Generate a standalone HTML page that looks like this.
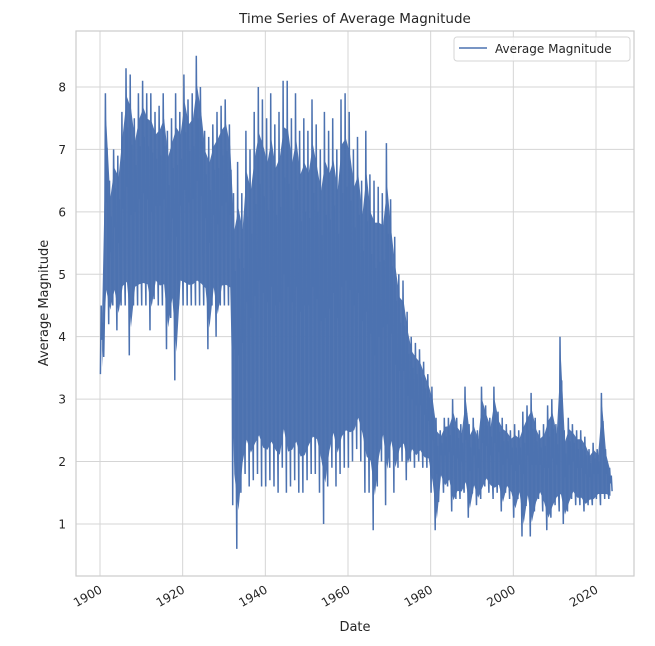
<!DOCTYPE html>
<html><head><meta charset="utf-8"><style>
body{margin:0;background:#fff;font-family:"Liberation Sans","DejaVu Sans",sans-serif;}
svg text{font-family:"DejaVu Sans","Liberation Sans",sans-serif;fill:#262626;}
</style></head><body>
<svg id="chart" width="655" height="641" viewBox="0 0 655 641">
<rect x="0" y="0" width="655" height="641" fill="#fff"/>
<text x="355" y="23" text-anchor="middle" font-size="13.5">Time Series of Average Magnitude</text>
<g id="grid"></g>
<g id="series"></g>
<rect x="76" y="31" width="558" height="545" fill="none" stroke="#cccccc" stroke-width="1.2"/>
<g id="yticks"></g>
<g id="xticks"></g>
<text x="355" y="631" text-anchor="middle" font-size="13">Date</text>
<text transform="translate(48,303) rotate(-90)" text-anchor="middle" font-size="13">Average Magnitude</text>
<g>
<rect x="454" y="37" width="176" height="24" rx="3" fill="#fff" fill-opacity="0.85" stroke="#d6d6d6"/>
<line x1="459" y1="48" x2="487" y2="48" stroke="#4c72b0" stroke-width="1.6"/>
<text x="495" y="53" font-size="12">Average Magnitude</text>
</g>
</svg>
<script>
const years=[1900,1901,1902,1903,1904,1905,1906,1907,1908,1909,1910,1911,1912,1913,1914,1915,1916,1917,1918,1919,1920,1921,1922,1923,1924,1925,1926,1927,1928,1929,1930,1931,1932,1933,1934,1935,1936,1937,1938,1939,1940,1941,1942,1943,1944,1945,1946,1947,1948,1949,1950,1951,1952,1953,1954,1955,1956,1957,1958,1959,1960,1961,1962,1963,1964,1965,1966,1967,1968,1969,1970,1971,1972,1973,1974,1975,1976,1977,1978,1979,1980,1981,1982,1983,1984,1985,1986,1987,1988,1989,1990,1991,1992,1993,1994,1995,1996,1997,1998,1999,2000,2001,2002,2003,2004,2005,2006,2007,2008,2009,2010,2011,2012,2013,2014,2015,2016,2017,2018,2019,2020,2021,2022,2023];
const highs=[4.5,7.9,6.5,7.0,6.9,7.6,8.3,8.2,7.5,7.9,8.1,7.9,7.9,7.6,7.7,7.9,7.3,7.5,7.9,7.6,8.2,7.8,7.9,8.5,8.0,7.3,7.2,7.4,7.6,7.7,7.8,7.4,6.3,6.8,6.3,7.3,7.0,7.6,8.0,7.8,7.5,7.9,7.4,7.6,8.1,8.1,7.5,7.9,7.3,7.5,7.3,7.8,7.4,7.0,7.6,7.3,7.5,7.0,7.8,7.9,7.6,7.0,7.2,6.5,7.3,6.6,6.5,6.4,6.3,7.1,6.2,5.6,5.0,4.9,4.4,4.0,3.9,3.8,3.6,3.4,3.2,2.7,2.5,2.7,2.7,3.0,2.7,2.6,3.2,2.6,2.7,2.5,3.2,2.9,2.7,3.2,2.8,2.7,2.6,2.5,2.6,2.5,2.8,2.9,3.1,2.7,2.5,2.6,2.9,3.0,2.6,4.0,2.5,2.7,2.6,2.5,2.5,2.4,2.2,2.3,2.2,3.1,2.2,1.9];
const lows=[3.4,4.4,4.2,4.5,4.1,4.5,4.5,3.7,4.5,4.5,4.5,4.5,4.1,4.6,4.5,4.5,3.8,4.3,3.3,4.6,4.5,4.5,4.5,4.5,4.5,4.5,3.8,4.5,4.0,4.5,4.5,4.5,1.3,0.6,1.5,1.8,1.6,1.7,1.8,1.6,1.6,1.7,1.6,1.5,1.9,1.5,1.6,1.7,1.5,1.5,1.7,1.8,1.8,1.5,1.0,1.6,1.9,1.6,1.8,1.9,1.9,2.0,2.2,2.0,1.5,1.5,0.9,1.6,2.0,1.3,1.9,1.5,1.9,2.0,1.7,2.0,1.9,2.0,1.9,1.9,1.5,0.9,1.7,1.5,1.6,1.2,1.4,1.4,1.5,1.1,1.5,1.3,1.4,1.6,1.5,1.4,1.5,1.2,1.5,1.4,1.1,1.4,0.8,1.3,0.8,1.2,1.4,1.2,0.9,1.1,1.3,1.2,1.0,1.2,1.4,1.3,1.3,1.2,1.3,1.3,1.4,1.3,1.4,1.4];
const yTicks=[1,2,3,4,5,6,7,8];
const xTicks=[1900,1920,1940,1960,1980,2000,2020];

const NS="http://www.w3.org/2000/svg";
const X0=76,X1=634,Y0=31,Y1=576;
function xs(yr){return 100+(yr-1900)*(496/120);}
function ys(v){return 586.4-v*62.43;}
const grid=document.getElementById('grid'),yt=document.getElementById('yticks'),xt=document.getElementById('xticks'),ser=document.getElementById('series');
yTicks.forEach(v=>{
  const l=document.createElementNS(NS,'line');
  l.setAttribute('x1',X0);l.setAttribute('x2',X1);l.setAttribute('y1',ys(v));l.setAttribute('y2',ys(v));
  l.setAttribute('stroke','#d5d5d5');l.setAttribute('stroke-width','1');
  
  
  grid.appendChild(l);
  const t=document.createElementNS(NS,'text');
  t.setAttribute('x',X0-10);t.setAttribute('y',ys(v)+4.5);t.setAttribute('text-anchor','end');t.setAttribute('font-size','12');
  t.textContent=v;
  
  
  yt.appendChild(t);
});
xTicks.forEach(v=>{
  const l=document.createElementNS(NS,'line');
  l.setAttribute('x1',xs(v));l.setAttribute('x2',xs(v));l.setAttribute('y1',Y0);l.setAttribute('y2',Y1);
  l.setAttribute('stroke','#d5d5d5');l.setAttribute('stroke-width','1');
  
  
  grid.appendChild(l);
  const t=document.createElementNS(NS,'text');
  const px=xs(v)+3,py=592;
  t.setAttribute('x',px);t.setAttribute('y',py);t.setAttribute('text-anchor','end');t.setAttribute('font-size','12');
  t.setAttribute('transform','rotate(-30 '+px+' '+py+')');
  t.textContent=v;
  
  
  xt.appendChild(t);
});
// envelope fill (core band slightly inside extremes)
let up=[],dn=[];
years.forEach((yr,i)=>{
  const h=highs[i],lo=lows[i],span=h-lo;
  up.push(xs(yr+0.5).toFixed(1)+','+ys(h-span*0.12).toFixed(1));
  dn.unshift(xs(yr+0.5).toFixed(1)+','+ys(lo+span*0.1).toFixed(1));
});
const poly=document.createElementNS(NS,'polygon');
poly.setAttribute('points',up.concat(dn).join(' '));
poly.setAttribute('fill','#4c72b0');poly.setAttribute('fill-opacity','0.97');


ser.appendChild(poly);
// spiky line: per year hi/lo alternation
let pts=[];
years.forEach((yr,i)=>{
  const h=highs[i],lo=lows[i],m=(h+lo)/2;
  pts.push([yr+0.1,lo],[yr+0.3,h],[yr+0.5,m],[yr+0.7,(m+h)/2],[yr+0.9,(m+lo)/2]);
});
const pl=document.createElementNS(NS,'polyline');
pl.setAttribute('points',pts.map(p=>xs(p[0]).toFixed(1)+','+ys(p[1]).toFixed(1)).join(' '));
pl.setAttribute('fill','none');pl.setAttribute('stroke','#4c72b0');pl.setAttribute('stroke-width','1.5');pl.setAttribute('stroke-linejoin','miter');


ser.appendChild(pl);
</script>
</body></html>
